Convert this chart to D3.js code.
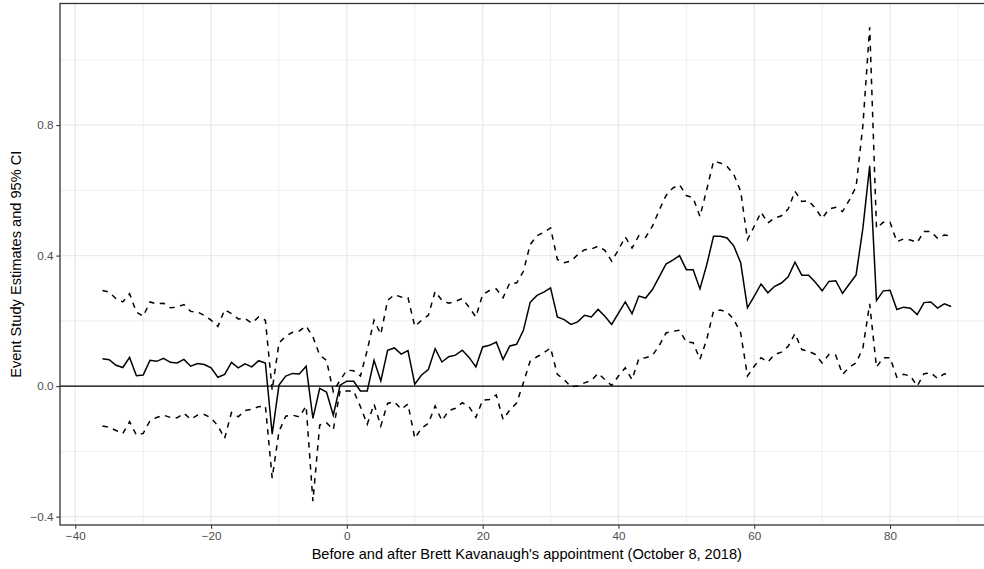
<!DOCTYPE html>
<html>
<head>
<meta charset="utf-8">
<script src="https://cdn.jsdelivr.net/npm/d3@7"></script>
<style>
  body { margin: 0; background: #fff; }
  text { font-family: "Liberation Sans", Arial, sans-serif; }
</style>
</head>
<body>
<div id="chart"></div>
<script>
// periods relative to the appointment
var periods = [-36,-35,-34,-33,-32,-31,-30,-29,-28,-27,-26,-25,-24,-23,-22,-21,-20,-19,-18,-17,
  -16,-15,-14,-13,-12,-11,-10,-9,-8,-7,-6,-5,-4,-3,-2,-1,0,1,2,3,4,5,6,7,8,9,10,11,12,13,14,15,
  16,17,18,19,20,21,22,23,24,25,26,27,28,29,30,31,32,33,34,35,36,37,38,39,40,41,42,43,44,45,46,
  47,48,49,50,51,52,53,54,55,56,57,58,59,60,61,62,63,64,65,66,67,68,69,70,71,72,73,74,75,76,77,
  78,79,80,81,82,83,84,85,86,87,88,89];

var estimate = [0.084,0.081,0.064,0.057,0.088,0.032,0.034,0.079,0.076,0.085,0.073,0.071,0.082,0.061,
  0.069,0.066,0.056,0.027,0.036,0.073,0.056,0.068,0.059,0.078,0.071,-0.147,0.003,0.031,0.039,0.037,
  0.061,-0.099,-0.007,-0.018,-0.089,0.003,0.015,0.015,-0.015,-0.015,0.079,0.016,0.110,0.117,0.098,
  0.109,0.006,0.034,0.051,0.115,0.074,0.090,0.095,0.110,0.088,0.059,0.120,0.125,0.135,0.082,0.123,
  0.128,0.171,0.257,0.278,0.288,0.301,0.212,0.204,0.189,0.197,0.217,0.212,0.235,0.214,0.189,0.224,
  0.258,0.222,0.276,0.270,0.296,0.335,0.374,0.386,0.400,0.357,0.357,0.298,0.372,0.459,0.459,0.454,
  0.429,0.378,0.240,0.276,0.313,0.286,0.306,0.316,0.335,0.380,0.340,0.340,0.318,0.292,0.321,0.323,
  0.284,0.313,0.341,0.484,0.675,0.262,0.292,0.294,0.235,0.242,0.239,0.219,0.256,0.258,0.239,0.252,
  0.244];

var upper = [0.293,0.288,0.268,0.258,0.283,0.227,0.214,0.258,0.252,0.254,0.240,0.242,0.250,0.229,
  0.227,0.217,0.202,0.183,0.234,0.222,0.206,0.207,0.193,0.212,0.202,-0.012,0.132,0.153,0.165,0.169,
  0.184,0.151,0.095,0.079,-0.017,0.018,0.049,0.047,0.031,0.110,0.202,0.159,0.263,0.280,0.273,0.271,
  0.183,0.202,0.217,0.290,0.263,0.254,0.260,0.268,0.242,0.212,0.281,0.293,0.298,0.271,0.317,0.316,
  0.352,0.434,0.461,0.471,0.485,0.388,0.378,0.383,0.403,0.418,0.420,0.429,0.416,0.383,0.418,0.457,
  0.423,0.461,0.456,0.490,0.539,0.584,0.607,0.617,0.584,0.577,0.520,0.602,0.689,0.684,0.673,0.648,
  0.597,0.449,0.490,0.533,0.500,0.515,0.522,0.543,0.597,0.566,0.568,0.545,0.514,0.543,0.548,0.535,
  0.570,0.611,0.799,1.100,0.484,0.502,0.502,0.443,0.451,0.448,0.440,0.474,0.474,0.453,0.463,0.461];

var lower = [-0.122,-0.126,-0.136,-0.145,-0.109,-0.150,-0.145,-0.106,-0.096,-0.089,-0.096,-0.097,
  -0.083,-0.102,-0.089,-0.087,-0.097,-0.122,-0.160,-0.081,-0.094,-0.075,-0.071,-0.063,-0.061,-0.282,
  -0.139,-0.092,-0.089,-0.094,-0.061,-0.353,-0.119,-0.112,-0.134,-0.014,-0.015,-0.015,-0.063,-0.117,
  -0.055,-0.122,-0.053,-0.048,-0.071,-0.055,-0.160,-0.129,-0.114,-0.061,-0.106,-0.075,-0.068,-0.051,
  -0.063,-0.096,-0.043,-0.041,-0.027,-0.102,-0.073,-0.052,0.010,0.077,0.090,0.102,0.117,0.036,0.020,
  -0.002,0.000,0.010,0.017,0.039,0.020,0.002,0.031,0.056,0.020,0.084,0.087,0.094,0.124,0.163,0.168,
  0.171,0.135,0.133,0.082,0.143,0.230,0.233,0.227,0.204,0.163,0.031,0.061,0.087,0.074,0.097,0.104,
  0.122,0.161,0.112,0.107,0.097,0.071,0.097,0.095,0.036,0.058,0.071,0.117,0.252,0.058,0.087,0.087,
  0.027,0.036,0.031,0.000,0.038,0.041,0.023,0.038,0.031];

var xTicks = [-40, -20, 0, 20, 40, 60, 80];
var xMinor = [-30, -10, 10, 30, 50, 70, 90];
var yTicks = [-0.4, 0, 0.4, 0.8];
var yMinor = [-0.2, 0.2, 0.6, 1.0];

var svgWidth = 984;
var svgHeight = 569;
var panel = {left: 60, top: 3.5, right: 993.6, bottom: 525};

var svg = d3.select("#chart")
  .append("svg")
  .attr("width", svgWidth)
  .attr("height", svgHeight);

// ggplot style 5% expansion
var xExt = d3.extent(periods);
var xPad = (xExt[1] - xExt[0]) * 0.05;
var xScale = d3.scaleLinear()
  .domain([xExt[0] - xPad, xExt[1] + xPad])
  .range([panel.left, panel.right]);

var yExt = [d3.min(lower), d3.max(upper)];
var yPad = (yExt[1] - yExt[0]) * 0.05;
var yScale = d3.scaleLinear()
  .domain([yExt[0] - yPad, yExt[1] + yPad])
  .range([panel.bottom, panel.top]);

// grid
var grid = svg.append("g");
grid.selectAll(".vminor").data(xMinor).enter().append("line")
  .attr("x1", d => xScale(d)).attr("x2", d => xScale(d))
  .attr("y1", panel.top).attr("y2", panel.bottom)
  .attr("stroke", "#ebebeb").attr("stroke-width", 0.8);
grid.selectAll(".hminor").data(yMinor).enter().append("line")
  .attr("x1", panel.left).attr("x2", panel.right)
  .attr("y1", d => yScale(d)).attr("y2", d => yScale(d))
  .attr("stroke", "#ebebeb").attr("stroke-width", 0.8);
grid.selectAll(".vmajor").data(xTicks).enter().append("line")
  .attr("x1", d => xScale(d)).attr("x2", d => xScale(d))
  .attr("y1", panel.top).attr("y2", panel.bottom)
  .attr("stroke", "#ebebeb").attr("stroke-width", 1.4);
grid.selectAll(".hmajor").data(yTicks).enter().append("line")
  .attr("x1", panel.left).attr("x2", panel.right)
  .attr("y1", d => yScale(d)).attr("y2", d => yScale(d))
  .attr("stroke", "#ebebeb").attr("stroke-width", 1.4);

// zero line
svg.append("line")
  .attr("x1", panel.left).attr("x2", panel.right)
  .attr("y1", yScale(0)).attr("y2", yScale(0))
  .attr("stroke", "#000").attr("stroke-width", 1.1);

var makeLine = function(vals) {
  return d3.line()
    .x((d, i) => xScale(periods[i]))
    .y(d => yScale(d))(vals);
};

svg.append("path").attr("d", makeLine(upper))
  .attr("fill", "none").attr("stroke", "#000").attr("stroke-width", 1.5)
  .attr("stroke-dasharray", "5.5,5.5");
svg.append("path").attr("d", makeLine(lower))
  .attr("fill", "none").attr("stroke", "#000").attr("stroke-width", 1.5)
  .attr("stroke-dasharray", "5.5,5.5");
svg.append("path").attr("d", makeLine(estimate))
  .attr("fill", "none").attr("stroke", "#000").attr("stroke-width", 1.5);

// panel border
svg.append("rect")
  .attr("x", panel.left).attr("y", panel.top)
  .attr("width", panel.right - panel.left).attr("height", panel.bottom - panel.top)
  .attr("fill", "none").attr("stroke", "#333").attr("stroke-width", 1.3);

// axes
var xAxis = d3.axisBottom(xScale).tickValues(xTicks)
  .tickFormat(d3.format("d")).tickSize(3.7).tickPadding(2.9);
var yAxis = d3.axisLeft(yScale).tickValues(yTicks)
  .tickFormat(d3.format(".1f")).tickSize(3.7).tickPadding(2.9);

var gx = svg.append("g")
  .attr("transform", `translate(0, ${panel.bottom})`)
  .call(xAxis);
var gy = svg.append("g")
  .attr("transform", `translate(${panel.left}, 0)`)
  .call(yAxis);

[gx, gy].forEach(function(g) {
  g.select(".domain").remove();
  g.selectAll(".tick line").attr("stroke", "#333").attr("stroke-width", 1.1);
  g.selectAll(".tick text")
    .attr("fill", "#4d4d4d")
    .style("font-size", "11.7px")
    .style("font-family", "'Liberation Sans', Arial, sans-serif");
});

// axis titles
svg.append("text")
  .attr("x", (panel.left + panel.right) / 2)
  .attr("y", 559)
  .attr("text-anchor", "middle")
  .style("font-size", "14.6px")
  .text("Before and after Brett Kavanaugh's appointment (October 8, 2018)");

svg.append("text")
  .attr("transform", `translate(20.5, ${(panel.top + panel.bottom) / 2}) rotate(-90)`)
  .attr("text-anchor", "middle")
  .style("font-size", "14.6px")
  .text("Event Study Estimates and 95% CI");
</script>
</body>
</html>
